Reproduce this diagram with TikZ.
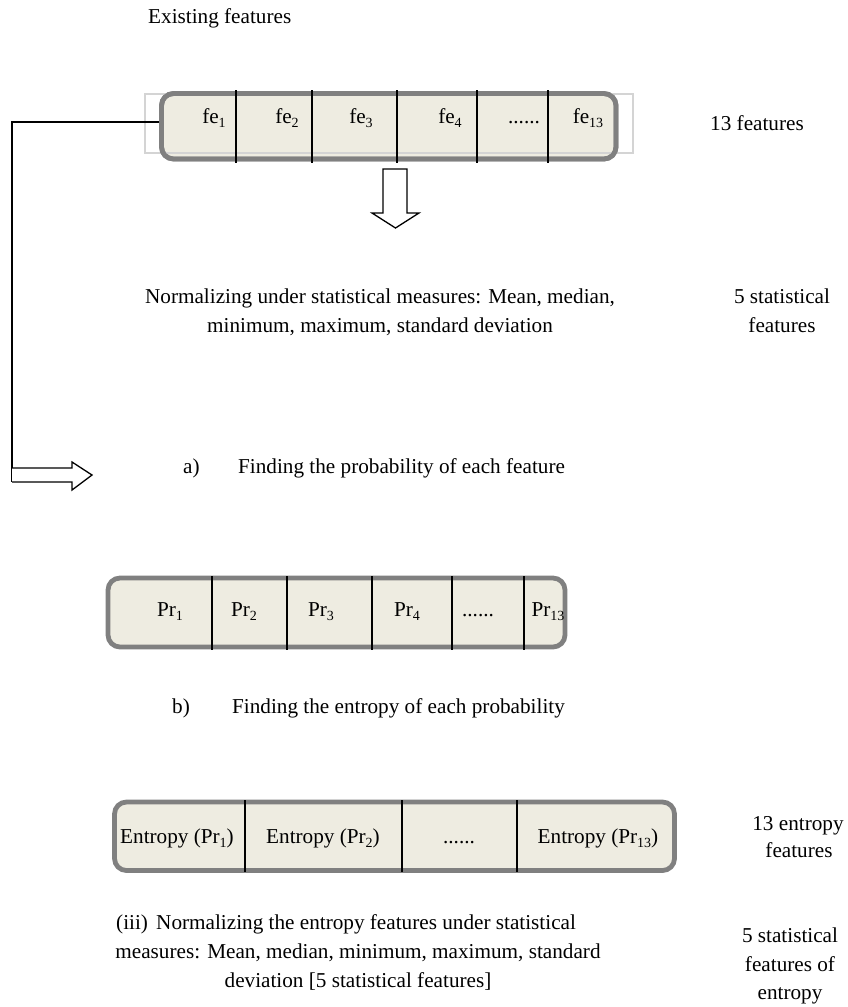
\documentclass[tikz,border=0pt]{standalone}
\usepackage{fontspec}
\setmainfont{Liberation Serif}
\definecolor{boxfill}{RGB}{238,236,225}
\definecolor{boxgray}{RGB}{128,128,128}
\definecolor{rectgray}{RGB}{212,212,212}
\newcommand\mysub[1]{\raisebox{-0.22em}{\fontsize{14}{14}\selectfont #1}}
\tikzset{
  txt/.style={font=\fontsize{21.2}{30}\selectfont, inner sep=0pt, anchor=base},
  txtl/.style={txt, anchor=base west},
  box/.style={draw=boxgray, line width=4.8pt, fill=boxfill, rounded corners=12pt, inner sep=0pt},
  boxline/.style={draw=boxgray, line width=4.8pt, fill=none, rounded corners=12pt, inner sep=0pt},
  divider/.style={black, line width=1.2pt},
  conn/.style={black, line width=1.5pt},
  hollow/.style={draw=black, line width=1.3pt, fill=white, line join=miter}
}
\begin{document}
\begin{tikzpicture}[x=1pt,y=-1pt]
\useasboundingbox (0,0) rectangle (847,1007);

% title
\node[txtl] (existing) at (148,23) {Existing features};

% top feature box
\node[box, minimum width=454.5pt, minimum height=65.5pt] (topbox) at (388.75,126.25) {};
\draw[rectgray, line width=1.3pt] (145,94) rectangle (633,153);
\node[boxline, minimum width=454.5pt, minimum height=65.5pt] (topborder) at (topbox.center) {};
\foreach \x in {236,312,397,477,548} \draw[divider] (\x,90) -- (\x,163);
\node[txt] (fe1) at (214,123) {fe\mysub{1}};
\node[txt] (fe2) at (287,123) {fe\mysub{2}};
\node[txt] (fe3) at (361,123) {fe\mysub{3}};
\node[txt] (fe4) at (450,123) {fe\mysub{4}};
\node[txt] (fedots) at (524,123) {......};
\node[txt] (fe13) at (588,123) {fe\mysub{13}};
\node[txt] (n13) at (757,130) {13 features};

% down arrow
\draw[hollow] (383,169) -- (407,169) -- (407,213) -- (419,213) -- (395.5,228) -- (372,213) -- (383,213) -- cycle;

% normalizing text
\node[txt] (norm1) at (380,303) {Normalizing under statistical measures: Mean, median,};
\node[txt] (norm2) at (380,332) {minimum, maximum, standard deviation};
\node[txt] (stat1) at (782,303) {5 statistical};
\node[txt] (stat2) at (782,332) {features};

% connector and side arrow
\coordinate (abot) at (12,482);
\draw[conn] ([yshift=4.25pt]topbox.west) -| (abot);
\draw[hollow] (12,468) -- (72,468) -- (72,462) -- (92,475) -- (72,490) -- (72,482) -- (abot);

% a)
\node[txtl] (alab) at (183,473) {a)};
\node[txtl] (atext) at (238,473) {Finding the probability of each feature};

% probability box
\node[box, minimum width=457pt, minimum height=69pt] (prbox) at (336.5,612.5) {};
\foreach \x in {212,287,372,452,524} \draw[divider] (\x,576) -- (\x,650);
\node[txt] (pr1) at (170,616) {Pr\mysub{1}};
\node[txt] (pr2) at (244,616) {Pr\mysub{2}};
\node[txt] (pr3) at (321,616) {Pr\mysub{3}};
\node[txt] (pr4) at (407,616) {Pr\mysub{4}};
\node[txt] (prdots) at (478,616) {......};
\node[txt] (pr13) at (548,616) {Pr\mysub{13}};

% b)
\node[txtl] (blab) at (172,713) {b)};
\node[txtl] (btext) at (232,713) {Finding the entropy of each probability};

% entropy box
\node[box, minimum width=560pt, minimum height=68.5pt] (enbox) at (394.5,836.25) {};
\foreach \x in {245,402,517} \draw[divider] (\x,800) -- (\x,872);
\node[txt] (en1) at (177,843) {Entropy (Pr\mysub{1})};
\node[txt] (en2) at (323,843) {Entropy (Pr\mysub{2})};
\node[txt] (endots) at (459,843) {......};
\node[txt] (en13) at (598,843) {Entropy (Pr\mysub{13})};
\node[txt] (e13a) at (798,830) {13 entropy};
\node[txt] (e13b) at (799,857) {features};

% (iii)
\node[txtl] (iiilab) at (116,929) {(iii)};
\node[txtl] (iii1) at (156,929) {Normalizing the entropy features under statistical};
\node[txt] (iii2) at (358,958) {measures: Mean, median, minimum, maximum, standard};
\node[txt] (iii3) at (358,987) {deviation [5 statistical features]};
\node[txt] (s5a) at (790,942) {5 statistical};
\node[txt] (s5b) at (790,971) {features of};
\node[txt] (s5c) at (790,999) {entropy};
\end{tikzpicture}
\end{document}
